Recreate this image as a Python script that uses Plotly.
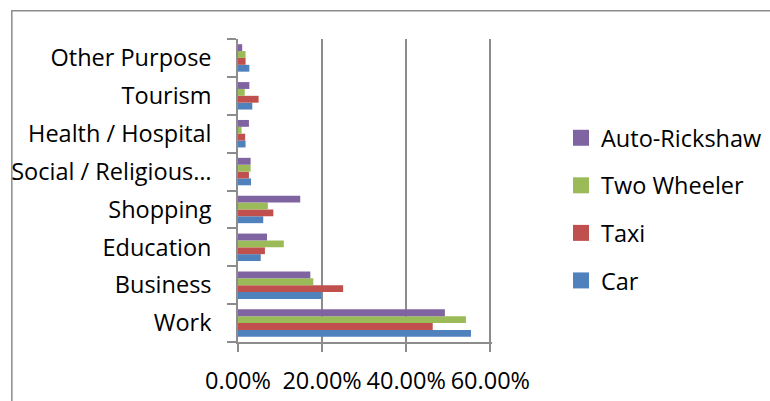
import plotly.graph_objects as go

categories = ["Work", "Business", "Education", "Shopping", "Social / Religious…",
              "Health / Hospital", "Tourism", "Other Purpose"]
car = [0.554, 0.198, 0.054, 0.060, 0.031, 0.018, 0.034, 0.027]
taxi = [0.463, 0.250, 0.064, 0.084, 0.026, 0.017, 0.049, 0.018]
two_wheeler = [0.542, 0.179, 0.109, 0.071, 0.030, 0.0085, 0.016, 0.018]
auto_rickshaw = [0.492, 0.172, 0.069, 0.148, 0.030, 0.026, 0.027, 0.010]
x_ticks = [0, 0.2, 0.4, 0.6]

series = [("Car", car, "#4F81BD"), ("Taxi", taxi, "#C0504D"),
          ("Two Wheeler", two_wheeler, "#9BBB59"), ("Auto-Rickshaw", auto_rickshaw, "#8064A2")]

FONT = "Open Sans"
FS = 23.5
GRAY = "#8c8c8c"

fig = go.Figure()
for i, (name, vals, col) in enumerate(series):
    fig.add_trace(go.Bar(y=categories, x=vals, name=name, orientation="h",
                         marker=dict(color=col, line=dict(width=0)),
                         legendgroup=name, showlegend=False))
# legend proxies with square swatches
for i, (name, vals, col) in enumerate(series):
    fig.add_trace(go.Scatter(x=[None], y=[None], mode="markers", name=name,
                             marker=dict(symbol="square", size=16, color=col,
                                         line=dict(width=0)),
                             legendgroup=name, legendrank=len(series) - i,
                             hoverinfo="skip"))

W, H = 770, 401
L, R, T, B = 237.7, 492.3, 39.3, 341.7
fig.update_layout(
    width=W, height=H,
    margin=dict(l=L, r=W - R, t=T, b=H - B, pad=0, autoexpand=False),
    paper_bgcolor="white", plot_bgcolor="white",
    font=dict(family=FONT, size=FS, color="black"),
    barmode="group", bargap=0.275, bargroupgap=0,
    showlegend=True,
    legend=dict(traceorder="grouped", tracegroupgap=14, itemsizing="trace",
                xref="container", yref="container",
                x=561 / W, xanchor="left",
                y=1 - 209.5 / H, yanchor="middle",
                font=dict(family=FONT, size=FS), bgcolor="rgba(0,0,0,0)"),
    xaxis=dict(range=[0, 0.604], tickvals=x_ticks, tickformat=".2%",
               showgrid=True, gridcolor=GRAY, gridwidth=1.5,
               showline=True, linecolor=GRAY, linewidth=1.5,
               ticks="outside", ticklen=8, tickcolor=GRAY, tickwidth=1.5,
               ticklabelstandoff=9,
               zeroline=False, fixedrange=True),
    yaxis=dict(type="category", showgrid=False,
               showline=True, linecolor=GRAY, linewidth=1.5,
               ticks="outside", ticklen=9, tickcolor=GRAY, tickwidth=1.5,
               ticklabelstandoff=20,
               tickson="boundaries", zeroline=False, fixedrange=True),
    shapes=[dict(type="rect", xref="paper", yref="paper",
                 x0=(11 - L) / (R - L), x1=(790 - L) / (R - L),
                 y0=(B - 420) / (B - T), y1=(B - 11) / (B - T),
                 line=dict(color=GRAY, width=1.5), fillcolor="rgba(0,0,0,0)", layer="below")],
)

fig.write_html("out.html")
